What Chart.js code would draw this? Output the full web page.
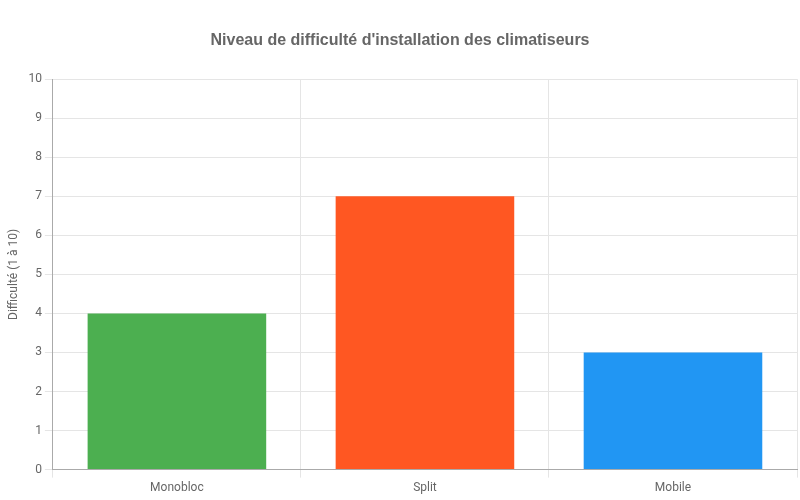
<!DOCTYPE html>
<html>
<head>
<meta charset="utf-8">
<script src="https://cdn.jsdelivr.net/npm/chart.js@4"></script>
<style>
  html, body { margin: 0; padding: 0; background: #fff; }
  #wrap { width: 800px; height: 500px; }
</style>
</head>
<body>
<div id="wrap"><canvas id="chart"></canvas></div>
<script>
// data
const categories = ['Monobloc', 'Split', 'Mobile'];
const difficulty = [4, 7, 3];
const barColors = ['#4CAF50', '#FF5722', '#2196F3'];

Chart.defaults.font.family = 'Roboto, "Liberation Sans", Arial, sans-serif';
Chart.defaults.color = '#666';

new Chart(document.getElementById('chart'), {
    type: 'bar',
    data: {
        labels: categories,
        datasets: [{
            label: 'Difficulté',
            data: difficulty,
            backgroundColor: barColors,
            borderWidth: 0
        }]
    },
    options: {
        responsive: true,
        maintainAspectRatio: false,
        animation: false,
        layout: { padding: { left: 3, right: 3, bottom: 2 } },
        plugins: {
            legend: { display: false },
            title: {
                display: true,
                text: "Niveau de difficulté d'installation des climatiseurs",
                font: { family: '"Liberation Sans", Arial, sans-serif', size: 16, weight: 'bold' },
                color: '#666',
                padding: { top: 31, bottom: 29 }
            }
        },
        scales: {
            x: {
                grid: { color: '#e5e5e5' },
                border: { color: '#aaa' },
                ticks: { font: { size: 12 } }
            },
            y: {
                min: 0,
                max: 10,
                ticks: { stepSize: 1, font: { size: 12 } },
                grid: { color: '#e5e5e5' },
                border: { color: '#aaa' },
                title: {
                    display: true,
                    text: 'Difficulté (1 à 10)',
                    font: { size: 12 }
                }
            }
        }
    }
});
</script>
</body>
</html>
